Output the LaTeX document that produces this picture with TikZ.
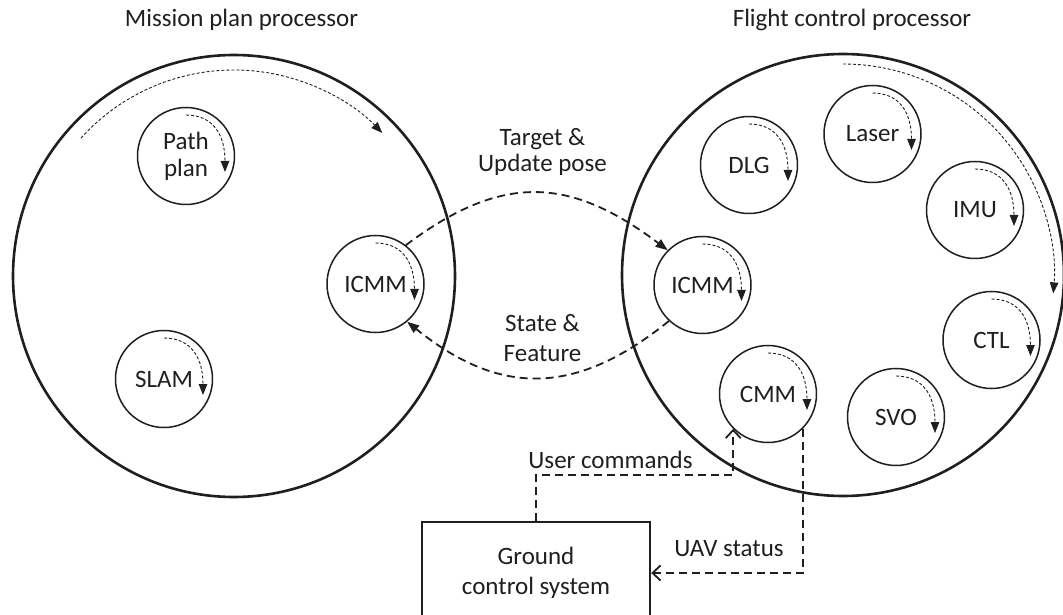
\documentclass[tikz,border=0pt]{standalone}
\usepackage{fontspec}
\setmainfont{Carlito}
\usetikzlibrary{arrows.meta}
\definecolor{ink}{HTML}{1F1F1F}
\begin{document}
\begin{tikzpicture}[x=1pt,y=1pt,
  every node/.style={font=\fontsize{25}{28}\selectfont, text=ink},
  proc/.style={circle, draw=ink, line width=2.6pt, minimum size=442pt, inner sep=0pt},
  task/.style={circle, draw=ink, line width=1.5pt, minimum size=97pt, inner sep=0pt, align=center},
  spin/.style={draw=ink, line width=0.9pt, dash pattern=on 3pt off 2pt,
    -{Triangle[length=11pt,width=8.5pt]}},
  link/.style={draw=ink, line width=1.8pt, dash pattern=on 8pt off 5pt},
  filled/.style={-{Triangle[length=12pt,width=9pt]}},
  open/.style={-{Straight Barb[length=8pt,width=15pt,line width=1.8pt]}},
  gbox/.style={rectangle, draw=ink, line width=2.4pt, minimum width=228pt,
    minimum height=102pt, inner sep=0pt, align=center,
    font=\fontsize{25}{30}\selectfont}]
\useasboundingbox (0,0) rectangle (1063,614);
\clip (0,0) rectangle (1063,614);

% processors
\node[proc] (mp) at (234,338) {};
\node[proc] (fc) at (843,339) {};
\node[anchor=base] (mpt) at (241.5,587) {Mission plan processor};
\node[anchor=base] (fct) at (852,587) {Flight control processor};

% scheduling direction inside each processor
\draw[spin] ([shift={(138:206)}]mp.center) arc[start angle=138, end angle=44, radius=206];
\draw[spin] ([shift={(90:211)}]fc.center) arc[start angle=90, end angle=-5, radius=211];

% tasks of the mission plan processor
\node[task, font=\fontsize{25}{27}\selectfont] (pp) at (186,458) {Path\\plan};
\node[task] (slam) at (164,235) {SLAM};
\node[task] (icl) at (375.5,330) {ICMM};

% tasks of the flight control processor
\node[task] (dlg) at (749,449) {DLG};
\node[task] (laser) at (872.5,480) {Laser};
\node[task] (imu) at (975,404) {IMU};
\node[task] (icr) at (702.5,329) {ICMM};
\node[task] (ctl) at (991.5,274) {CTL};
\node[task] (cmm) at (768,220) {CMM};
\node[task] (svo) at (896,197) {SVO};

% each task runs in a loop
\foreach \t in {pp,slam,icl,dlg,laser,imu,icr,ctl,cmm,svo}
  \draw[spin] ([shift={(0,41)}]\t.center) .. controls +(28,0) and +(0,36) .. ([shift={(39,-16)}]\t.center);

% exchange between the two ICMM modules
\draw[link, filled] (icl.52) .. controls +(97,73) and +(-97,73) .. (icr.135);
\draw[link, filled] (icr.227) .. controls +(-93,-75) and +(93,-75) .. (icl.310);
\node[align=center, font=\fontsize{25}{26}\selectfont] (tup) at (542.5,462) {Target \&\\Update pose};
\node[align=center, font=\fontsize{25}{30}\selectfont] (sf) at (542.5,275.5) {State \&\\Feature};

% ground station
\node[gbox] (gcs) at (536,41) {Ground\\control system};
\coordinate (ucbend) at (0,139);
\draw[link, open] (gcs.north) |- (cmm.225 |- ucbend) -- (cmm.225);
\draw[link, open] (cmm.315) |- (gcs.east);
\node[anchor=base] (uc) at (610.5,146) {User commands};
\node[anchor=base] (uav) at (729,57.3) {UAV status};
\end{tikzpicture}
\end{document}
